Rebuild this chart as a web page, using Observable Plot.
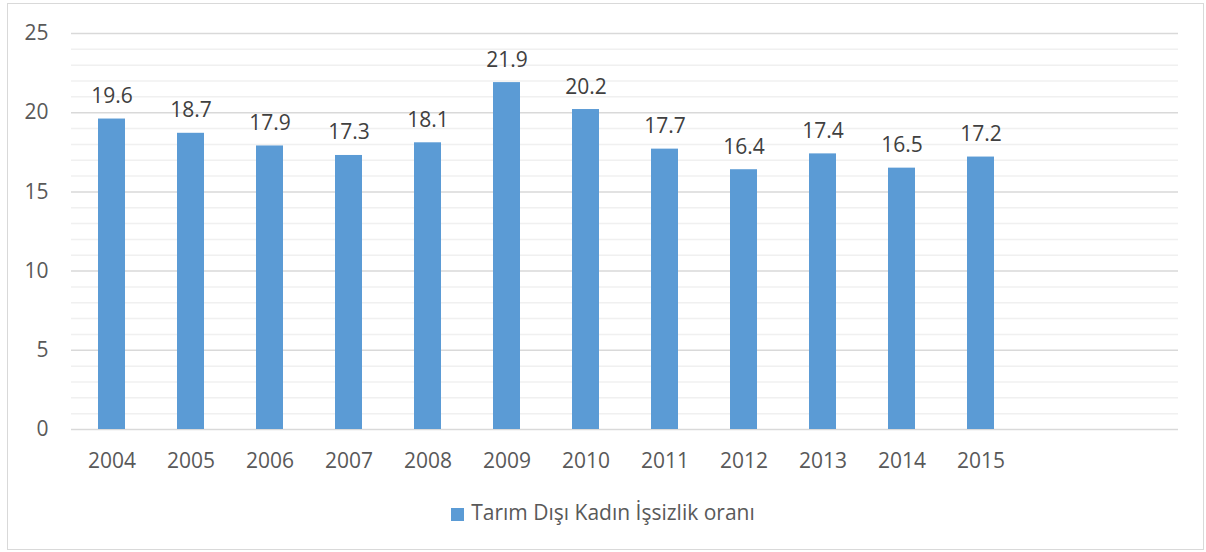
<!DOCTYPE html>
<html><head><meta charset="utf-8">
<script src="https://cdn.jsdelivr.net/npm/d3@7"></script>
<script src="https://cdn.jsdelivr.net/npm/@observablehq/plot@0.6"></script>
<style>
body{margin:0;background:#fff;font-family:"Open Sans",sans-serif;}
#frame{position:absolute;left:7px;top:3px;width:1195px;height:545px;border:1.5px solid #d9d9d9;}
#chart{position:absolute;left:0;top:0;}
#legend{position:absolute;left:0;top:498px;width:1206px;text-align:center;font-size:21px;color:#595959;}
#legend .sw{display:inline-block;width:13px;height:13px;background:#5b9bd5;margin-right:7px;vertical-align:-1px;}
</style></head>
<body>
<div id="frame"></div>
<div id="chart"></div>
<div id="legend"><span class="sw"></span>Tarım Dışı Kadın İşsizlik oranı</div>
<script>
const years = ["2004","2005","2006","2007","2008","2009","2010","2011","2012","2013","2014","2015"];
const values = [19.6,18.7,17.9,17.3,18.1,21.9,20.2,17.7,16.4,17.4,16.5,17.2];
const emptyCategories = [" ", "  "];
const majorTicks = [0,5,10,15,20,25];
const minorTicks = d3.range(0,26).filter(v => v % 5 !== 0);

const data = years.map((y,i) => ({year:y, value:values[i]}));
const domain = years.concat(emptyCategories);

const chart = Plot.plot({
  width: 1206,
  height: 480,
  marginLeft: 71,
  marginRight: 28,
  marginTop: 33,
  marginBottom: 51,
  style: {fontFamily: "'Open Sans', sans-serif", fontSize: "21px", color: "#595959", background: "transparent"},
  x: {type: "band", domain, paddingInner: 0.66, paddingOuter: 0.33, align: 0.5, label: null},
  y: {domain: [0,25], label: null},
  marks: [
    Plot.ruleY(minorTicks, {stroke: "#f0f0f0", strokeWidth: 1.5}),
    Plot.ruleY(majorTicks, {stroke: "#d9d9d9", strokeWidth: 1.5}),
    Plot.barY(data, {x: "year", y: "value", fill: "#5b9bd5"}),
    Plot.text(data, {x: "year", y: "value", text: d => d.value.toFixed(1), lineAnchor: "bottom", dy: -16, fontSize: 21, fill: "#404040"}),
    Plot.axisY(majorTicks, {tickSize: 0, tickPadding: 23, fontSize: 21, fill: "#595959"}),
    Plot.axisX({tickSize: 0, tickPadding: 24, fontSize: 21, fill: "#595959", tickFormat: d => d.trim()})
  ]
});
document.getElementById("chart").appendChild(chart);
</script>
</body></html>
